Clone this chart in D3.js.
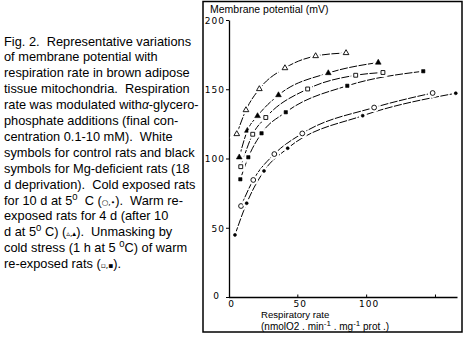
<!DOCTYPE html>
<html>
<head>
<meta charset="utf-8">
<script src="https://cdn.jsdelivr.net/npm/d3@7"></script>
<style>
  html, body { margin: 0; padding: 0; background: #fff; }
  svg { display: block; }
</style>
</head>
<body>
<svg id="fig" width="468" height="338"></svg>
<script>
// Respiratory rate (nmol O2/min/mg prot) and membrane potential (mV) per group
const coldCtrlX   = [9.1, 18.0, 33.3, 53.6, 105.8, 148.3];
const coldCtrlY   = [65.7, 84.5, 103.2, 118.1, 136.8, 147.3];
const coldMgX     = [4.7, 13.2, 25.8, 43.0, 97.5, 165.1];
const coldMgY     = [44.8, 67.7, 91.0, 107.4, 130.9, 147.1];
const warmCtrlX   = [6.0, 12.7, 22.4, 41.0, 63.3, 85.4];
const warmCtrlY   = [117.7, 135.0, 150.2, 165.3, 174.0, 176.2];
const warmMgX     = [7.8, 13.7, 21.1, 36.3, 72.5, 108.8];
const warmMgY     = [100.9, 120.1, 130.7, 145.8, 161.7, 169.3];
const unmaskCtrlX = [8.9, 17.6, 27.1, 57.5, 92.4, 112.2];
const unmaskCtrlY = [94.1, 117.5, 129.6, 150.2, 160.1, 162.1];
const unmaskMgX   = [8.6, 14.4, 24.0, 41.6, 86.3, 141.5];
const unmaskMgY   = [85.0, 100.9, 118.2, 133.4, 152.5, 163.0];

const yTickValues = [0, 50, 100, 150, 200];
const xTickValues = [0, 50, 100, 150];
const xTickLabels = ["0", "50", "100", ""];

const yTitle = "Membrane potential (mV)";
const xTitle1 = "Respiratory rate";

const captionLines = [
  [["Fig. 2.  Representative variations"]],
  [["of membrane potential with"]],
  [["respiration rate in brown adipose"]],
  [["tissue mitochondria.  Respiration"]],
  [["rate was modulated with"], ["α", "greek"], ["-glycero-"]],
  [["phosphate additions (final con-"]],
  [["centration 0.1-10 mM).  White"]],
  [["symbols for control rats and black"]],
  [["symbols for Mg-deficient rats (18"]],
  [["d deprivation).  Cold exposed rats"]],
  [["for 10 d at 5"], ["0", "sup"], ["  C ("], ["○,•", "sym"], [").  Warm re-"]],
  [["exposed rats for 4 d (after 10"]],
  [["d at 5"], ["0", "sup"], [" C) ("], ["▵,▴", "sym"], [").  Unmasking by"]],
  [["cold stress (1 h at 5 "], ["0", "sup"], ["C) of warm"]],
  [["re-exposed rats ("], ["▫,▪", "sym"], [")."]]
];

const series = [
  { x: coldCtrlX,   y: coldCtrlY,   shape: "circle",   filled: false },
  { x: coldMgX,     y: coldMgY,     shape: "circle",   filled: true  },
  { x: warmCtrlX,   y: warmCtrlY,   shape: "triangle", filled: false },
  { x: warmMgX,     y: warmMgY,     shape: "triangle", filled: true  },
  { x: unmaskCtrlX, y: unmaskCtrlY, shape: "square",   filled: false },
  { x: unmaskMgX,   y: unmaskMgY,   shape: "square",   filled: true  }
];

const svg = d3.select("#fig");
const FONT = "'Liberation Sans', Arial, sans-serif";

// ---- caption on the left ----
svg.append("clipPath").attr("id", "capclip")
  .append("rect").attr("x", 0).attr("y", 0).attr("width", 202).attr("height", 338);

const cap = svg.append("g").attr("clip-path", "url(#capclip)");
captionLines.forEach((segs, i) => {
  const t = cap.append("text")
    .attr("x", 4).attr("y", 45.5 + i * 15.9)
    .attr("font-family", FONT).attr("font-size", 12.8)
    .style("white-space", "pre");
  let shift = 0;
  segs.forEach(([s, kind]) => {
    const ts = t.append("tspan").text(s);
    if (kind === "sup") {
      ts.attr("dy", -5 - shift).attr("font-size", 9.5);
      shift = -5;
    } else {
      if (shift !== 0) { ts.attr("dy", -shift); shift = 0; }
      if (kind === "sym") ts.attr("font-size", 7.5).attr("font-family", "'DejaVu Sans', sans-serif");
      if (kind === "greek") ts.attr("font-style", "italic").attr("font-size", 12);
    }
  });
});

// ---- plot ----
const x = d3.scaleLinear().domain([0, 166]).range([228.5, 457]);
const y = d3.scaleLinear().domain([0, 200]).range([297, 20]);

const gY = svg.append("g").attr("transform", "translate(229,0)")
  .call(d3.axisLeft(y).tickValues(yTickValues).tickSize(3).tickPadding(1).tickSizeOuter(0));
const gX = svg.append("g").attr("transform", "translate(0,297)")
  .call(d3.axisBottom(x).tickValues(xTickValues).tickSizeInner(-2.5).tickSizeOuter(0)
        .tickPadding(3).tickFormat((d, i) => xTickLabels[i]));

[gX, gY].forEach(g => {
  g.selectAll("path.domain").attr("stroke", "#000").attr("stroke-width", 1.3);
  g.selectAll(".tick line").attr("stroke", "#000").attr("stroke-width", 1);
  g.selectAll(".tick text").attr("font-family", "'DejaVu Sans', sans-serif")
    .attr("font-size", 9).attr("letter-spacing", 1).attr("fill", "#000");
});
gX.selectAll(".tick").filter(d => d === 0).select("line").remove();
gX.selectAll(".tick text").attr("dy", "0.75em").attr("dx", 2.5);
gY.selectAll(".tick text").attr("dy", "0.36em");
gY.selectAll(".tick").filter(d => d === 0).select("text").attr("dy", "0.15em").attr("dx", -5);

// axis titles
svg.append("text").attr("x", 210).attr("y", 12.5)
  .attr("font-family", FONT).attr("font-size", 10.5).text(yTitle);
svg.append("text").attr("x", 261).attr("y", 318)
  .attr("font-family", FONT).attr("font-size", 9.6).text(xTitle1);
const xt2 = svg.append("text").attr("x", 261).attr("y", 330)
  .attr("font-family", FONT).attr("font-size", 10);
xt2.append("tspan").text("(nmolO2 . min");
xt2.append("tspan").attr("dy", -4).attr("font-size", 8).text("-1");
xt2.append("tspan").attr("dy", 4).text(" . mg");
xt2.append("tspan").attr("dy", -4).attr("font-size", 8).text("-1");
xt2.append("tspan").attr("dy", 4).text(" prot .)");

// curves
const line = d3.line().x(d => x(d[0])).y(d => y(d[1])).curve(d3.curveMonotoneX);
const plot = svg.append("g");
series.forEach(s => {
  const pts = s.x.map((v, i) => [v, s.y[i]]);
  plot.append("path").datum(pts)
    .attr("d", line).attr("fill", "none")
    .attr("stroke", "#000").attr("stroke-width", 1)
    .attr("stroke-dasharray", "8,1.5");
});

// markers with a small white halo that interrupts the curve
const symSize = { circle: [18, 7], triangle: [14, 14], square: [15, 11] };
const symType = { circle: d3.symbolCircle, triangle: d3.symbolTriangle, square: d3.symbolSquare };
series.forEach(s => {
  const size = symSize[s.shape][s.filled ? 1 : 0];
  const gen = d3.symbol().type(symType[s.shape]).size(size);
  const pts = s.x.map((v, i) => [v, s.y[i]]);
  const g = plot.append("g");
  g.selectAll("path.halo").data(pts).join("path")
    .attr("class", "halo")
    .attr("transform", d => `translate(${x(d[0])},${y(d[1])})`)
    .attr("d", gen).attr("fill", "#fff").attr("stroke", "#fff").attr("stroke-width", 5);
  g.selectAll("path.mk").data(pts).join("path")
    .attr("class", "mk")
    .attr("transform", d => `translate(${x(d[0])},${y(d[1])})`)
    .attr("d", gen)
    .attr("fill", s.filled ? "#000" : "#fff")
    .attr("stroke", "#000").attr("stroke-width", s.filled ? 0.6 : 0.9);
});

// outer frame
svg.append("rect").attr("x", 203).attr("y", 1.5).attr("width", 259).attr("height", 330.5)
  .attr("fill", "none").attr("stroke", "#000").attr("stroke-width", 1.5);
</script>
</body>
</html>
